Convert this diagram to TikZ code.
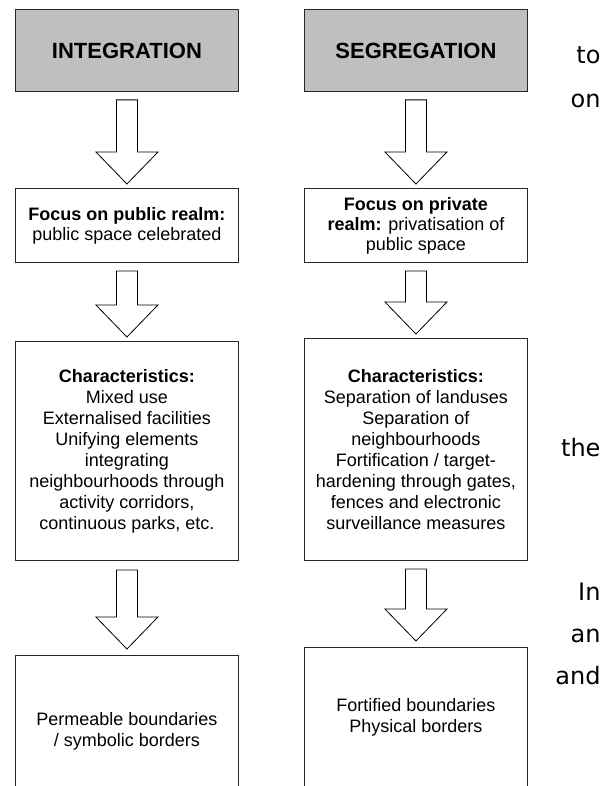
\documentclass[tikz,border=0pt]{standalone}
\usepackage{fontspec}
\setmainfont{Liberation Sans}
\newfontfamily\sidefont{DejaVu Sans}
\usetikzlibrary{calc}
\newcommand\blockarrow[4]{%
  \draw[barrow] let \p1=(#1.south), \p2=(#2.north) in
    (\x1-10.5pt,\y1-#3) -- (\x1+10.5pt,\y1-#3) -- (\x1+10.5pt,\y2+#4+32pt)
    -- (\x1+31pt,\y2+#4+32pt) -- (\x1,\y2+#4) -- (\x1-31pt,\y2+#4+32pt)
    -- (\x1-10.5pt,\y2+#4+32pt) -- cycle;}
\begin{document}
\begin{tikzpicture}[x=1pt,y=-1pt,
  box/.style={draw=black!85, line width=0.9pt, fill=white, align=center,
    inner sep=0pt, minimum width=223pt, anchor=north west,
    font=\fontsize{18}{21}\selectfont},
  headbox/.style={box, fill=black!25, font=\fontsize{22}{26}\selectfont\bfseries},
  barrow/.style={draw=black, line width=0.8pt, fill=white, line join=miter},
  side/.style={font=\sidefont\fontsize{24}{28}\selectfont, anchor=base east, inner sep=0pt}]
\useasboundingbox (0,0) rectangle (608,786);
\clip (0,0) rectangle (608,786);
% left column
\node[headbox, minimum height=82pt] (t1) at (15,9) {INTEGRATION};
\node[box, minimum height=74pt, font=\fontsize{18}{20}\selectfont] (f1) at (15,188)
  {\textbf{Focus on public realm:}\\public space celebrated};
\node[box, minimum height=219pt] (c1) at (15,341)
  {\textbf{Characteristics:}\\Mixed use\\Externalised facilities\\Unifying elements\\integrating\\neighbourhoods through\\activity corridors,\\continuous parks, etc.};
\node[box, minimum height=152pt] (e1) at (15,655)
  {Permeable boundaries\\/ symbolic borders};
% right column
\node[headbox, minimum height=82pt] (t2) at (304,9) {SEGREGATION};
\node[box, minimum height=74pt, font=\fontsize{18}{20}\selectfont] (f2) at (304,188)
  {\textbf{Focus on private}\\\textbf{realm:} privatisation of\\public space};
\node[box, minimum height=222pt] (c2) at (304,338)
  {\textbf{Characteristics:}\\Separation of landuses\\Separation of\\neighbourhoods\\Fortification / target-\\hardening through gates,\\fences and electronic\\surveillance measures};
\node[box, minimum height=140pt] (e2) at (304,647)
  {Fortified boundaries\\Physical borders};
% block arrows
\blockarrow{t1}{f1}{8pt}{4pt}
\blockarrow{f1}{c1}{8pt}{4pt}
\blockarrow{c1}{e1}{9pt}{6pt}
\blockarrow{t2}{f2}{8pt}{4pt}
\blockarrow{f2}{c2}{8pt}{4pt}
\blockarrow{c2}{e2}{8pt}{6pt}
% side text fragments
\node[side] (s1) at (600.7,64) {to};
\node[side] (s2) at (600.7,108) {on};
\node[side] (s3) at (600.7,456) {the};
\node[side] (s4) at (600.7,600) {In};
\node[side] (s5) at (600.7,642) {an};
\node[side] (s6) at (600.7,684) {and};
\end{tikzpicture}
\end{document}
